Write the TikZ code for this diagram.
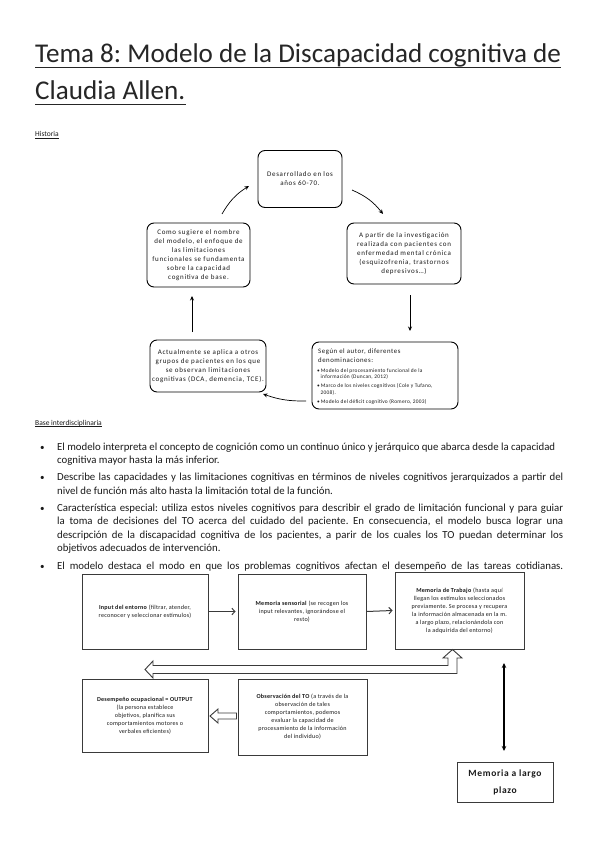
\documentclass[tikz,border=0pt]{standalone}
\usepackage{fontspec}
\setmainfont{Carlito}
\newfontfamily\cycfont[LetterSpace=10]{Carlito}
\newfontfamily\headfont[LetterSpace=8]{Carlito}
\newfontfamily\smallfont[LetterSpace=5]{Carlito}
\newfontfamily\flfont[LetterSpace=4]{Carlito}
\newfontfamily\bigfont[LetterSpace=7]{Carlito}
\usetikzlibrary{arrows.meta,calc}
\definecolor{txt}{HTML}{1A1A1A}
\definecolor{boxc}{HTML}{3A3A3A}
\frenchspacing
\begin{document}
\begin{tikzpicture}[x=1pt,y=-1pt,
  every node/.style={inner sep=0pt, text=txt},
  cyc/.style={draw=black, line width=0.9pt, rounded corners=7pt, align=center, font=\cycfont\fontsize{7}{9}\selectfont},
  cyca/.style={draw=black, line width=0.7pt, -{Stealth[length=4.5pt,width=4pt]}},
  fbox/.style={draw=boxc, line width=0.9pt, align=center, font=\flfont\fontsize{6.1}{8}\selectfont},
  farrow/.style={draw=boxc, line width=1pt, -{Straight Barb[length=3pt,width=6.5pt]}},
  hollow/.style={draw=boxc, line width=0.9pt, fill=white, line join=miter},
  bul/.style={anchor=base west, font=\fontsize{10.8}{13}\selectfont},
  lab/.style={anchor=base west, font=\fontsize{7.5}{9}\selectfont},
  hd/.style={anchor=base west, font=\headfont\fontsize{6.8}{9}\selectfont},
  sm/.style={anchor=base west, font=\smallfont\fontsize{5.4}{6.8}\selectfont},
]
\useasboundingbox (0,0) rectangle (599,848);
\fill[white] (0,0) rectangle (599,848);

% Title
\node[anchor=base west, text=black!85, font=\fontsize{27.1}{32}\selectfont] (t1) at (35,63) {Tema 8: Modelo de la Discapacidad cognitiva de};
\node[anchor=base west, text=black!85, font=\fontsize{27.1}{32}\selectfont] (t2) at (35,100) {Claudia Allen.};
\draw[line width=1.1pt, black!85] ([yshift=-4.5pt]t1.base west) -- ([yshift=-4.5pt]t1.base east);
\draw[line width=1.1pt, black!85] ([yshift=-4.5pt]t2.base west) -- ([yshift=-4.5pt]t2.base east);

\node[lab] (h1) at (35,136.5) {Historia};
\draw[line width=0.5pt, txt] ([yshift=-1.5pt]h1.base west) -- ([yshift=-1.5pt]h1.base east);

% Cycle
\node[cyc, minimum width=84pt, minimum height=57pt] (c1) at (300,179) {Desarrollado en los\\años 60-70.};
\node[cyc, minimum width=114pt, minimum height=61pt] (c2) at (404,253.5) {A partir de la investigación\\realizada con pacientes con\\enfermedad mental crónica\\(esquizofrenia, trastornos\\depresivos…)};
\node[cyc, minimum width=146pt, minimum height=67pt] (c3) at (385,375.5) {};
\node[hd] (c3h1) at (318,353.5) {Según el autor, diferentes};
\node[hd] (c3h2) at (318,362.5) {denominaciones:};
\node[sm] (c3b1) at (317,372) {•\,Modelo del procesamiento funcional de la};
\node[sm] (c3b2) at (320.5,378.8) {información (Duncan, 2012)};
\node[sm] (c3b3) at (317,387.6) {•\,Marco de los niveles cognitivos (Cole y Tufano,};
\node[sm] (c3b4) at (320.5,394.4) {2008).};
\node[sm] (c3b5) at (317,403.2) {•\,Modelo del déficit cognitivo (Romero, 2003)};
\node[cyc, minimum width=116pt, minimum height=52pt] (c4) at (208,366) {Actualmente se aplica a otros\\grupos de pacientes en los que\\se observan limitaciones\\cognitivas (DCA, demencia, TCE).};
\node[cyc, minimum width=103pt, minimum height=64pt] (c5) at (198.5,255) {Como sugiere el nombre\\del modelo, el enfoque de\\las limitaciones\\funcionales se fundamenta\\sobre la capacidad\\cognitiva de base.};

\coordinate (a1s) at (352,190); \coordinate (a1e) at (383,214);
\draw[cyca] (a1s) to[bend left=14] (a1e);
\coordinate (a2s) at (410,295); \coordinate (a2e) at (410,331);
\draw[cyca] (a2s) -- (a2e);
\coordinate (a3s) at (306,401); \coordinate (a3e) at (263,394);
\draw[cyca] (a3s) to[bend left=10] (a3e);
\coordinate (a4s) at (192,332); \coordinate (a4e) at (192,296);
\draw[cyca] (a4s) -- (a4e);
\coordinate (a5s) at (222,214); \coordinate (a5e) at (249,186);
\draw[cyca] (a5s) to[bend left=14] (a5e);

% Base interdisciplinaria
\node[lab] (h2) at (35,425) {Base interdisciplinaria};
\draw[line width=0.5pt, txt] ([yshift=-1.5pt]h2.base west) -- ([yshift=-1.5pt]h2.base east);

\foreach \yy/\nm in {450/p1,480.7/p2,511.3/p3,569/p4}
  \node[bul, font=\fontsize{9}{10}\selectfont] (\nm) at (40,\yy) {•};
\node[bul] (l1) at (57,450) {\makebox[498pt][s]{El modelo interpreta el concepto de cognición como un continuo único y jerárquico que abarca desde la capacidad}};
\node[bul] (l2) at (57,463.5) {cognitiva mayor hasta la más inferior.};
\node[bul] (l3) at (57,480.7) {\makebox[506pt][s]{Describe las capacidades y las limitaciones cognitivas en términos de niveles cognitivos jerarquizados a partir del}};
\node[bul] (l4) at (57,494.2) {nivel de función más alto hasta la limitación total de la función.};
\node[bul] (l5) at (57,511.3) {\makebox[506pt][s]{Característica especial: utiliza estos niveles cognitivos para describir el grado de limitación funcional y para guiar}};
\node[bul] (l6) at (57,524.8) {\makebox[506pt][s]{la toma de decisiones del TO acerca del cuidado del paciente. En consecuencia, el modelo busca lograr una}};
\node[bul] (l7) at (57,538.3) {\makebox[506pt][s]{descripción de la discapacidad cognitiva de los pacientes, a parir de los cuales los TO puedan determinar los}};
\node[bul] (l8) at (57,551.8) {objetivos adecuados de intervención.};
\node[bul] (l9) at (57,569) {\makebox[506pt][s]{El modelo destaca el modo en que los problemas cognitivos afectan el desempeño de las tareas cotidianas.}};

% Flowchart
\node[fbox, minimum width=126pt, minimum height=75pt] (A) at (145,611.5) {\textbf{Input del entorno} (filtrar, atender,\\reconocer y seleccionar estímulos)};
\node[fbox, minimum width=128pt, minimum height=75pt] (B) at (302,611.5) {\textbf{Memoria sensorial} (se recogen los\\input relevantes, ignorándose el\\resto)};
\node[fbox, minimum width=129pt, minimum height=77pt] (C) at (459.5,610.5) {\textbf{Memoria de Trabajo} (hasta aquí\\llegan los estímulos seleccionados\\previamente. Se procesa y recupera\\la información almacenada en la m.\\a largo plazo, relacionándola con\\la adquirida del entorno)};
\node[fbox, minimum width=126pt, minimum height=73pt] (D) at (145,715.5) {\textbf{Desempeño ocupacional = OUTPUT}\\(la persona establece\\objetivos, planifica sus\\comportamientos motores o\\verbales eficientes)};
\node[fbox, minimum width=129pt, minimum height=76pt] (E) at (302.5,717) {\textbf{Observación del TO} (a través de la\\observación de tales\\comportamientos, podemos\\evaluar la capacidad de\\procesamiento de la información\\del individuo)};
\node[fbox, minimum width=96pt, minimum height=40pt, font=\bigfont\bfseries\fontsize{9.5}{17}\selectfont] (F) at (505,782) {Memoria a largo\\plazo};

\draw[farrow] (A.east) -- ([xshift=-2pt]B.west);
\draw[farrow] (B.east) -- ([xshift=-2pt]C.west);

% hollow E -> D
\draw[hollow] (210,716) -- (218,709) -- (218,713) -- (236.5,713) -- (236.5,719) -- (218,719) -- (218,723) -- cycle;

% big bent hollow arrow
\draw[hollow] (145,669.5) -- (153,661) -- (153,665.5) -- (448,665.5) -- (448,658) -- (443,658) -- (452.5,649.5) -- (462,658) -- (457,658) -- (457,673.5) -- (153,673.5) -- (153,678) -- cycle;

% vertical double arrow
\coordinate (v1) at (504,663); \coordinate (v2) at (504,751);
\draw[line width=1.1pt, black, {Stealth[length=5pt,width=4.5pt]}-{Stealth[length=5pt,width=4.5pt]}] (v1) -- (v2);
\end{tikzpicture}
\end{document}
